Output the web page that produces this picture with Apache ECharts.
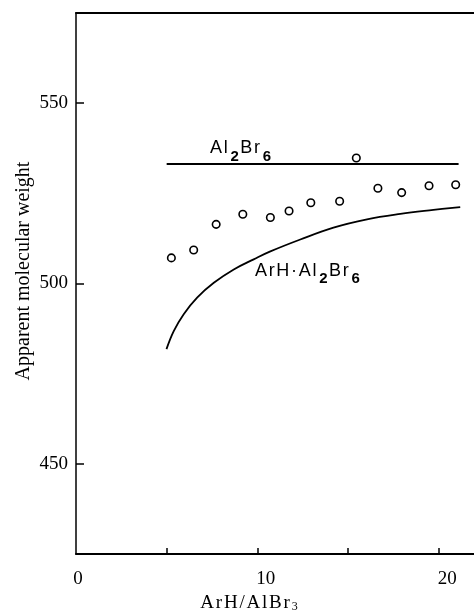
<!DOCTYPE html>
<html>
<head>
<meta charset="utf-8">
<script src="https://cdn.jsdelivr.net/npm/echarts@6/dist/echarts.min.js"></script>
<style>
html,body{margin:0;padding:0;background:#fff;}
#main{width:474px;height:612px;}
</style>
</head>
<body>
<div id="main"></div>
<script>
// measured points (circles)
var ratioX = [5.26, 6.49, 7.73, 9.2, 10.72, 11.75, 12.95, 14.54, 15.46, 16.65, 17.96, 19.47, 20.94];
var molWeight = [507.1, 509.3, 516.4, 519.2, 518.3, 520.1, 522.4, 522.8, 534.8, 526.4, 525.2, 527.1, 527.4];

// ArH.Al2Br6 curve
var curveX = [4.99, 5.39, 5.94, 6.68, 7.60, 8.70, 9.80, 10.72, 12.37, 14.20, 16.05, 17.89, 19.71, 21.19];
var curveY = [481.8, 486.8, 491.5, 496.1, 500.2, 503.9, 506.7, 508.9, 512.2, 515.5, 517.8, 519.3, 520.4, 521.2];

// Al2Br6 line
var dimerX = [5.0, 21.1];
var dimerY = [533.1, 533.1];

// ticks
var yTicks = [450, 500, 550];
var xTicks = [5, 10, 15, 20];
var xLabels = [0, 10, 20];

function pairs(xs, ys) {
    var out = [];
    for (var i = 0; i < xs.length; i++) {
        out.push([xs[i], ys[i]]);
    }
    return out;
}

// one token per letter so the letters get a bit of spacing
function spaced(str, tok) {
    var s = '';
    for (var i = 0; i < str.length; i++) {
        s += '{' + tok + '|' + str.charAt(i) + '}';
    }
    return s;
}

var subRich = {
    n: {fontFamily: 'Liberation Sans', fontSize: 18, color: '#000', lineHeight: 20, verticalAlign: 'top', padding: [0, 1.7, 0, 0]},
    s: {fontFamily: 'Liberation Sans', fontSize: 15, color: '#000', fontWeight: 'bold', verticalAlign: 'bottom', padding: [10, 1.5, 0, 1]}
};

var myChart = echarts.init(document.getElementById('main'));
myChart.setOption({
    animation: false,
    backgroundColor: '#fff',
    grid: {left: 76, right: 0, top: 13, bottom: 58, outerBoundsMode: 'none', containLabel: false},
    xAxis: [
        {
            type: 'value',
            min: 0,
            max: 21.95,
            position: 'bottom',
            axisLine: {lineStyle: {color: '#000', width: 2}},
            axisTick: {show: true, inside: true, length: 6, customValues: xTicks, lineStyle: {color: '#000', width: 1.5}},
            axisLabel: {
                customValues: xLabels,
                margin: 16,
                formatter: function (v) {
                    return v === 0 ? '{z|0}' : '{d|' + v + '}';
                },
                rich: {
                    z: {color: '#000', fontFamily: 'Liberation Serif', fontSize: 19, padding: [0, 0, 0, 4]},
                    d: {color: '#000', fontFamily: 'Liberation Serif', fontSize: 19, padding: [0, 0, 0, 17]}
                }
            },
            splitLine: {show: false},
            name: spaced('ArH/AlBr', 'n') + '{s|3}',
            nameLocation: 'middle',
            nameGap: 33,
            nameTextStyle: {
                padding: [0, 52, 0, 0],
                rich: {
                    n: {fontFamily: 'Liberation Serif', fontSize: 19, color: '#000', padding: [0, 1.8, 0, 0]},
                    s: {fontFamily: 'Liberation Serif', fontSize: 12, color: '#000', padding: [7, 0, 0, 0]}
                }
            }
        },
        {
            type: 'value',
            min: 0,
            max: 21.95,
            position: 'top',
            axisLine: {lineStyle: {color: '#000', width: 2}},
            axisTick: {show: false},
            axisLabel: {show: false},
            splitLine: {show: false}
        }
    ],
    yAxis: {
        type: 'value',
        min: 425,
        max: 575,
        axisLine: {show: true, lineStyle: {color: '#000', width: 1.5}},
        axisTick: {show: true, inside: true, length: 8, customValues: yTicks, lineStyle: {color: '#000', width: 1.5}},
        axisLabel: {customValues: yTicks, color: '#000', fontFamily: 'Liberation Serif', fontSize: 19, margin: 8},
        splitLine: {show: false},
        name: 'Apparent molecular weight',
        nameLocation: 'middle',
        nameMoveOverlap: false,
        nameGap: 42,
        nameTextStyle: {color: '#000', fontFamily: 'Liberation Serif', fontSize: 20, padding: [0, 0, 0, 25]}
    },
    series: [
        {
            name: 'Al2Br6',
            type: 'line',
            data: pairs(dimerX, dimerY),
            symbol: 'none',
            lineStyle: {color: '#000', width: 2},
            markPoint: {
                symbol: 'circle',
                symbolSize: 0,
                label: {show: true, position: 'inside', align: 'left', verticalAlign: 'middle',
                    formatter: spaced('Al', 'n') + '{s|2}' + spaced('Br', 'n') + '{s|6}', rich: subRich},
                data: [{coord: [7.39, 536.5]}]
            }
        },
        {
            name: 'ArH.Al2Br6',
            type: 'line',
            data: pairs(curveX, curveY),
            smooth: 0.4,
            symbol: 'none',
            lineStyle: {color: '#000', width: 1.8},
            markPoint: {
                symbol: 'circle',
                symbolSize: 0,
                label: {show: true, position: 'inside', align: 'left', verticalAlign: 'middle',
                    formatter: spaced('ArH·Al', 'n') + '{s|2}' + spaced('Br', 'n') + '{s|6}', rich: subRich},
                data: [{coord: [9.87, 502.6]}]
            }
        },
        {
            name: 'observed',
            type: 'scatter',
            data: pairs(ratioX, molWeight),
            symbol: 'circle',
            symbolSize: 7.5,
            itemStyle: {color: '#fff', borderColor: '#000', borderWidth: 1.6, opacity: 1}
        }
    ]
});
</script>
</body>
</html>
